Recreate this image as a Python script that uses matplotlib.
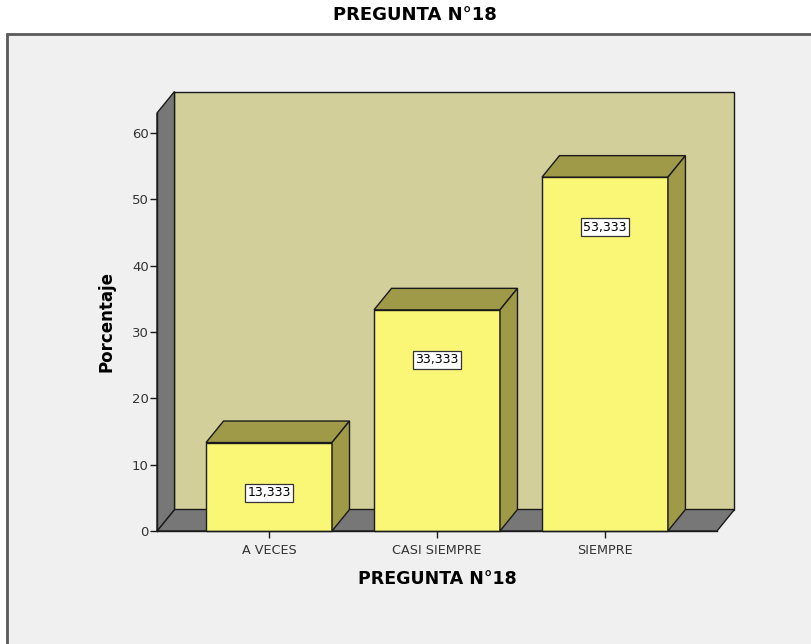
import matplotlib.pyplot as plt
from matplotlib.patches import Polygon, Rectangle

# Datos
categorias = ['A VECES', 'CASI SIEMPRE', 'SIEMPRE']
porcentajes = [13.333, 33.333, 53.333]
etiquetas = ['13,333', '33,333', '53,333']
ticks_y = [0, 10, 20, 30, 40, 50, 60]

# Colores estilo SPSS
FONDO = '#f0f0f0'
PARED = '#d3cf9b'
GRIS = '#777777'
FRENTE = '#fbf776'
LATERAL = '#9e9a48'

plt.rcParams['font.family'] = ['DejaVu Sans']

fig = plt.figure(figsize=(8.11, 6.44), dpi=100)
fig.patch.set_facecolor('white')

# marco gris del area del grafico
marco = Rectangle((7 / 811, -0.05), 1.0, (644 - 34) / 644 + 0.05,
                  transform=fig.transFigure, facecolor=FONDO,
                  edgecolor='#5a5a5a', linewidth=2, zorder=-10)
fig.add_artist(marco)

fig.text(415 / 811, 1 - 15 / 644, 'PREGUNTA N°18', ha='center', va='center',
         fontsize=13, fontweight='bold')

ax = fig.add_axes([157 / 811, 113 / 644, 560 / 811, 418 / 644])
ax.set_facecolor('none')
x0, x1 = -0.667, 2.667
ymax = 63
ax.set_xlim(x0, x1)
ax.set_ylim(0, ymax)
for s in ax.spines.values():
    s.set_visible(False)

# profundidad del efecto 3D (unidades de datos)
DX = 17.5 / 168
DY = 21.5 * ymax / 418
ancho = 0.75


def poly(pts, color, z):
    ax.add_patch(Polygon(pts, closed=True, facecolor=color, edgecolor='#1a1a1a',
                         linewidth=1.0, clip_on=False, zorder=z))


# paredes y piso
poly([(x0 + DX, DY), (x1 + DX, DY), (x1 + DX, ymax + DY), (x0 + DX, ymax + DY)], PARED, 1)
poly([(x0, 0), (x1, 0), (x1 + DX, DY), (x0 + DX, DY)], GRIS, 2)
poly([(x0, 0), (x0 + DX, DY), (x0 + DX, ymax + DY), (x0, ymax)], GRIS, 2)

# barras en 3D
for i, (v, txt) in enumerate(zip(porcentajes, etiquetas)):
    a, b = i - ancho / 2, i + ancho / 2
    poly([(a, 0), (b, 0), (b, v), (a, v)], FRENTE, 3)
    poly([(a, v), (b, v), (b + DX, v + DY), (a + DX, v + DY)], LATERAL, 3)
    poly([(b, 0), (b + DX, DY), (b + DX, v + DY), (b, v)], LATERAL, 3)
    ax.annotate(txt, (i, v), xytext=(0, -36), textcoords='offset points',
                ha='center', va='center', fontsize=9, zorder=5,
                bbox=dict(boxstyle='square,pad=0.2', facecolor='white',
                          edgecolor='#333333', linewidth=0.9))

ax.plot([x0, x0], [0, ymax], color='#1a1a1a', linewidth=1.0, clip_on=False, zorder=4)
ax.plot([x0, x1], [0, 0], color='#1a1a1a', linewidth=1.0, clip_on=False, zorder=4)

ax.set_yticks(ticks_y)
ax.set_yticklabels([str(t) for t in ticks_y], fontsize=9.5, color='#333333')
ax.set_xticks(range(len(categorias)))
ax.set_xticklabels(categorias, fontsize=9.2, color='#333333')
ax.tick_params(axis='y', length=5, width=1.0, color='#1a1a1a', pad=1)
ax.tick_params(axis='x', length=5, width=1.0, color='#1a1a1a', pad=4)

ax.set_ylabel('Porcentaje', fontsize=12, fontweight='bold', labelpad=12)
ax.set_xlabel('PREGUNTA N°18', fontsize=12.5, fontweight='bold', labelpad=10)

fig.savefig('out.png', dpi=100, facecolor=fig.get_facecolor())
